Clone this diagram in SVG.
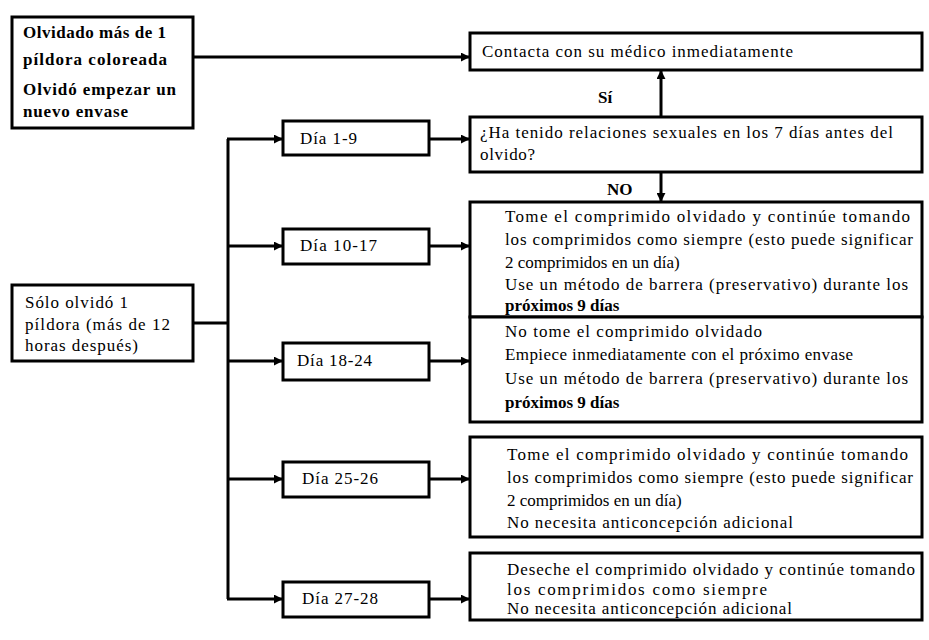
<svg xmlns="http://www.w3.org/2000/svg" width="929" height="640" viewBox="0 0 929 640">
<defs>
<marker id="ah2" viewBox="0 0 10 10" refX="9" refY="5" markerWidth="3" markerHeight="3" orient="auto" markerUnits="strokeWidth">
<path d="M0,0 L10,5 L0,10 z" fill="#000"/>
</marker>
</defs>
<style>
rect{fill:#fff;stroke:#000;stroke-width:3}
text{font-family:"Liberation Serif","Times New Roman",serif;font-size:17px;fill:#000}
.b{font-weight:bold}
.c line,.c path{stroke:#000;fill:none}
.t{stroke-width:3}
</style>
<rect x="0" y="0" width="929" height="640" style="stroke:none"/>
<g class="c" id="connectors">
<line class="t" x1="193" y1="57" x2="469" y2="57" marker-end="url(#ah2)"/>
<line class="t" x1="661" y1="117" x2="661" y2="71" marker-end="url(#ah2)"/>
<line class="t" x1="661" y1="150" x2="661" y2="201" marker-end="url(#ah2)"/>
<line class="t" x1="193" y1="323" x2="228" y2="323"/>
<line class="t" x1="228" y1="139" x2="228" y2="599"/>
<path class="t" d="M227,139 H282" marker-end="url(#ah2)"/>
<path class="t" d="M227,246 H282" marker-end="url(#ah2)"/>
<path class="t" d="M227,361 H282" marker-end="url(#ah2)"/>
<path class="t" d="M227,479 H282" marker-end="url(#ah2)"/>
<path class="t" d="M227,599 H282" marker-end="url(#ah2)"/>
<path class="t" d="M430,139 H469" marker-end="url(#ah2)"/>
<path class="t" d="M430,246 H469" marker-end="url(#ah2)"/>
<path class="t" d="M430,361 H469" marker-end="url(#ah2)"/>
<path class="t" d="M430,479 H469" marker-end="url(#ah2)"/>
<path class="t" d="M430,599 H469" marker-end="url(#ah2)"/>
<text class="b" x="598" y="103">Sí</text>
<text class="b" x="607" y="195">NO</text>
</g>
<g id="olvidado">
<rect x="12" y="17" width="181" height="111"/>
<text class="b" x="23" y="38" textLength="143">Olvidado más de 1</text>
<text class="b" x="23" y="65" textLength="144">píldora coloreada</text>
<text class="b" x="23" y="95" textLength="153">Olvidó empezar un</text>
<text class="b" x="23" y="117" textLength="105">nuevo envase</text>
</g>
<g id="solo">
<rect x="12" y="285" width="181" height="76"/>
<text x="25" y="308" textLength="103">Sólo olvidó 1</text>
<text x="25" y="330" textLength="145">píldora (más de 12</text>
<text x="25" y="351" textLength="113">horas después)</text>
</g>
<g id="contacta">
<rect x="470" y="33" width="452" height="37"/>
<text x="482" y="57" textLength="311">Contacta con su médico inmediatamente</text>
</g>
<g id="pregunta">
<rect x="470" y="117" width="452" height="55"/>
<text x="480" y="138" textLength="413">¿Ha tenido relaciones sexuales en los 7 días antes del</text>
<text x="480" y="160" textLength="55">olvido?</text>
</g>
<g id="dia1-9">
<rect x="283" y="121" width="146" height="34"/>
<text x="300" y="144" textLength="57">Día 1-9</text>
</g>
<g id="dia10-17">
<rect x="283" y="229" width="146" height="35"/>
<text x="300" y="251" textLength="77">Día 10-17</text>
</g>
<g id="dia18-24">
<rect x="283" y="343" width="146" height="37"/>
<text x="297" y="366" textLength="75">Día 18-24</text>
</g>
<g id="dia25-26">
<rect x="283" y="462" width="146" height="35"/>
<text x="302" y="484" textLength="76">Día 25-26</text>
</g>
<g id="dia27-28">
<rect x="283" y="582" width="146" height="35"/>
<text x="302" y="604" textLength="76">Día 27-28</text>
</g>
<g id="r10-17">
<rect x="470" y="202" width="452" height="115"/>
<text x="505" y="222" textLength="405">Tome el comprimido olvidado y continúe tomando</text>
<text x="505" y="245" textLength="408">los comprimidos como siempre (esto puede significar</text>
<text x="505" y="268">2 comprimidos en un día)</text>
<text x="505" y="290" textLength="403">Use un método de barrera (preservativo) durante los</text>
<text class="b" x="505" y="311">próximos 9 días</text>
</g>
<g id="r18-24">
<rect x="470" y="317" width="452" height="105"/>
<text x="505" y="337" textLength="257">No tome el comprimido olvidado</text>
<text x="505" y="360" textLength="348">Empiece inmediatamente con el próximo envase</text>
<text x="505" y="384" textLength="403">Use un método de barrera (preservativo) durante los</text>
<text class="b" x="505" y="408">próximos 9 días</text>
</g>
<g id="r25-26">
<rect x="470" y="437" width="452" height="100"/>
<text x="507" y="460" textLength="401">Tome el comprimido olvidado y continúe tomando</text>
<text x="507" y="483" textLength="406">los comprimidos como siempre (esto puede significar</text>
<text x="507" y="506">2 comprimidos en un día)</text>
<text x="507" y="528" textLength="286">No necesita anticoncepción adicional</text>
</g>
<g id="r27-28">
<rect x="470" y="553" width="452" height="67"/>
<text x="507" y="575" textLength="408">Deseche el comprimido olvidado y continúe tomando</text>
<text x="507" y="595" textLength="260">los comprimidos como siempre</text>
<text x="507" y="614" textLength="285">No necesita anticoncepción adicional</text>
</g>
</svg>
